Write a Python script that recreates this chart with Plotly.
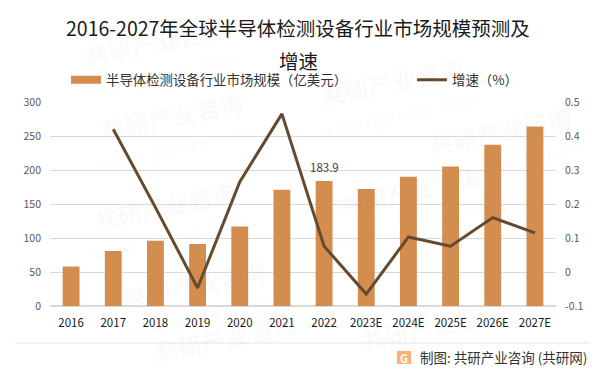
import plotly.graph_objects as go

# The page keeps a margin of 8 px round the figure; layout numbers below are page pixels.
PAGE_W, PAGE_H, OFFSET = 598, 372, 8
W, H = PAGE_W - OFFSET, PAGE_H - OFFSET
L, R, T, B = 50, 556, 102, 306

categories = ["2016", "2017", "2018", "2019", "2020", "2021", "2022", "2023E", "2024E", "2025E", "2026E", "2027E"]
market_size = [58, 81, 96, 91, 117, 171, 183.9, 172, 190, 205, 237, 264]
growth = [None, 0.42, 0.19, -0.047, 0.265, 0.465, 0.076, -0.065, 0.103, 0.076, 0.16, 0.115]
bar_labels = ["", "", "", "", "", "", "183.9", "", "", "", "", ""]
left_ticks = [0, 50, 100, 150, 200, 250, 300]
right_ticks = [-0.1, 0, 0.1, 0.2, 0.3, 0.4, 0.5]
right_tick_labels = ["-0.1", "0", "0.1", "0.2", "0.3", "0.4", "0.5"]
watermark_spots = [(155, 42), (392, 82), (172, 115), (195, 283), (432, 325),
                   (165, 205), (410, 190), (225, 337), (500, 130)]

FONT = "Noto Sans CJK SC, Noto Sans, sans-serif"


def px(x):
    return (x - L) / (R - L)


def py(y):
    return (B - y) / (B - T)


fig = go.Figure()
fig.add_trace(go.Bar(
    x=categories, y=market_size, showlegend=False,
    marker=dict(color="#D38D4F", line=dict(width=0)), width=0.4,
))
# Legend entry for the bars: a wide flat swatch like the original's
fig.add_trace(go.Scatter(
    x=categories, y=[None] * len(categories), name="半导体检测设备行业市场规模（亿美元）",
    mode="lines", line=dict(color="#D38D4F", width=8), legend="legend",
))
fig.add_trace(go.Scatter(
    x=categories, y=growth, name="增速（%）", mode="lines", yaxis="y2", legend="legend2",
    line=dict(color="#654A2F", width=3), connectgaps=False,
))


def note(text, x, y, size, color, **kw):
    fig.add_annotation(text=text, x=px(x), y=py(y), xref="paper", yref="paper", showarrow=False,
                       xanchor="center", yanchor="middle",
                       font=dict(size=size, color=color, family=FONT), **kw)


legend_style = dict(orientation="h", xanchor="left", yanchor="middle",
                    font=dict(size=13.4, color="#333333", family=FONT),
                    bgcolor="rgba(0,0,0,0)", itemwidth=30)

fig.update_layout(
    width=W, height=H, paper_bgcolor="white", plot_bgcolor="rgba(0,0,0,0)",
    margin=dict(l=L - OFFSET, r=PAGE_W - R, t=T - OFFSET, b=PAGE_H - B), bargap=0.6, showlegend=True,
    legend=dict(x=px(66), y=py(80), **legend_style),
    legend2=dict(x=px(412), y=py(80), **legend_style),
    xaxis=dict(anchor="y", type="category", categoryorder="array", categoryarray=categories,
               range=[-0.5, len(categories) - 0.5],
               tickfont=dict(size=11.5, color="#1a1a1a", family=FONT),
               showgrid=False, showline=False, ticks="", tickmode="array",
               tickvals=categories, ticktext=categories, ticklabelstandoff=8),
    yaxis=dict(range=[0, 300], tickvals=left_ticks, ticklabelstandoff=8,
               tickfont=dict(size=10.5, color="#595959", family=FONT),
               gridcolor="#D9D9D9", gridwidth=1, zeroline=True, zerolinecolor="#D9D9D9", showline=False),
    yaxis2=dict(range=[-0.1, 0.5], overlaying="y", side="right", anchor="x",
                tickvals=right_ticks, ticktext=right_tick_labels, ticklabelstandoff=8,
                tickfont=dict(size=10.5, color="#595959", family=FONT),
                showgrid=False, zeroline=False, showline=False),
)

for i, (val, label) in enumerate(zip(market_size, bar_labels)):
    if label:
        fig.add_annotation(text=label, x=i, y=val, xref="x", yref="y", showarrow=False, yshift=14,
                           font=dict(size=11.5, color="#404040", family=FONT))

note("2016-2027年全球半导体检测设备行业市场规模预测及", 298, 27, 19.5, "#1a1a1a")
note("增速", 298, 60, 19.5, "#1a1a1a")
note("制图: 共研产业咨询 (共研网)", 503, 357, 13.5, "#333333")

for x, y in watermark_spots:
    note("<b>共研产业咨询</b>", x, y, 24, "rgba(120,120,120,0.05)", textangle=-12)
    if y < 300:
        note("w w w . g o n y n . c o m", x + 5, y + 32, 15, "rgba(120,120,120,0.05)", textangle=-12)

fig.add_shape(type="line", xref="paper", yref="paper", x0=px(15), x1=px(590), y0=py(343), y1=py(343),
              line=dict(color="#E6E6E6", width=1))
fig.add_shape(type="rect", xref="paper", yref="paper", x0=px(397), x1=px(411), y0=py(351), y1=py(364),
              line=dict(width=0), fillcolor="#F7B27A")
note("<b>G</b>", 404, 357.5, 11, "white")

fig.write_html("out.html")
